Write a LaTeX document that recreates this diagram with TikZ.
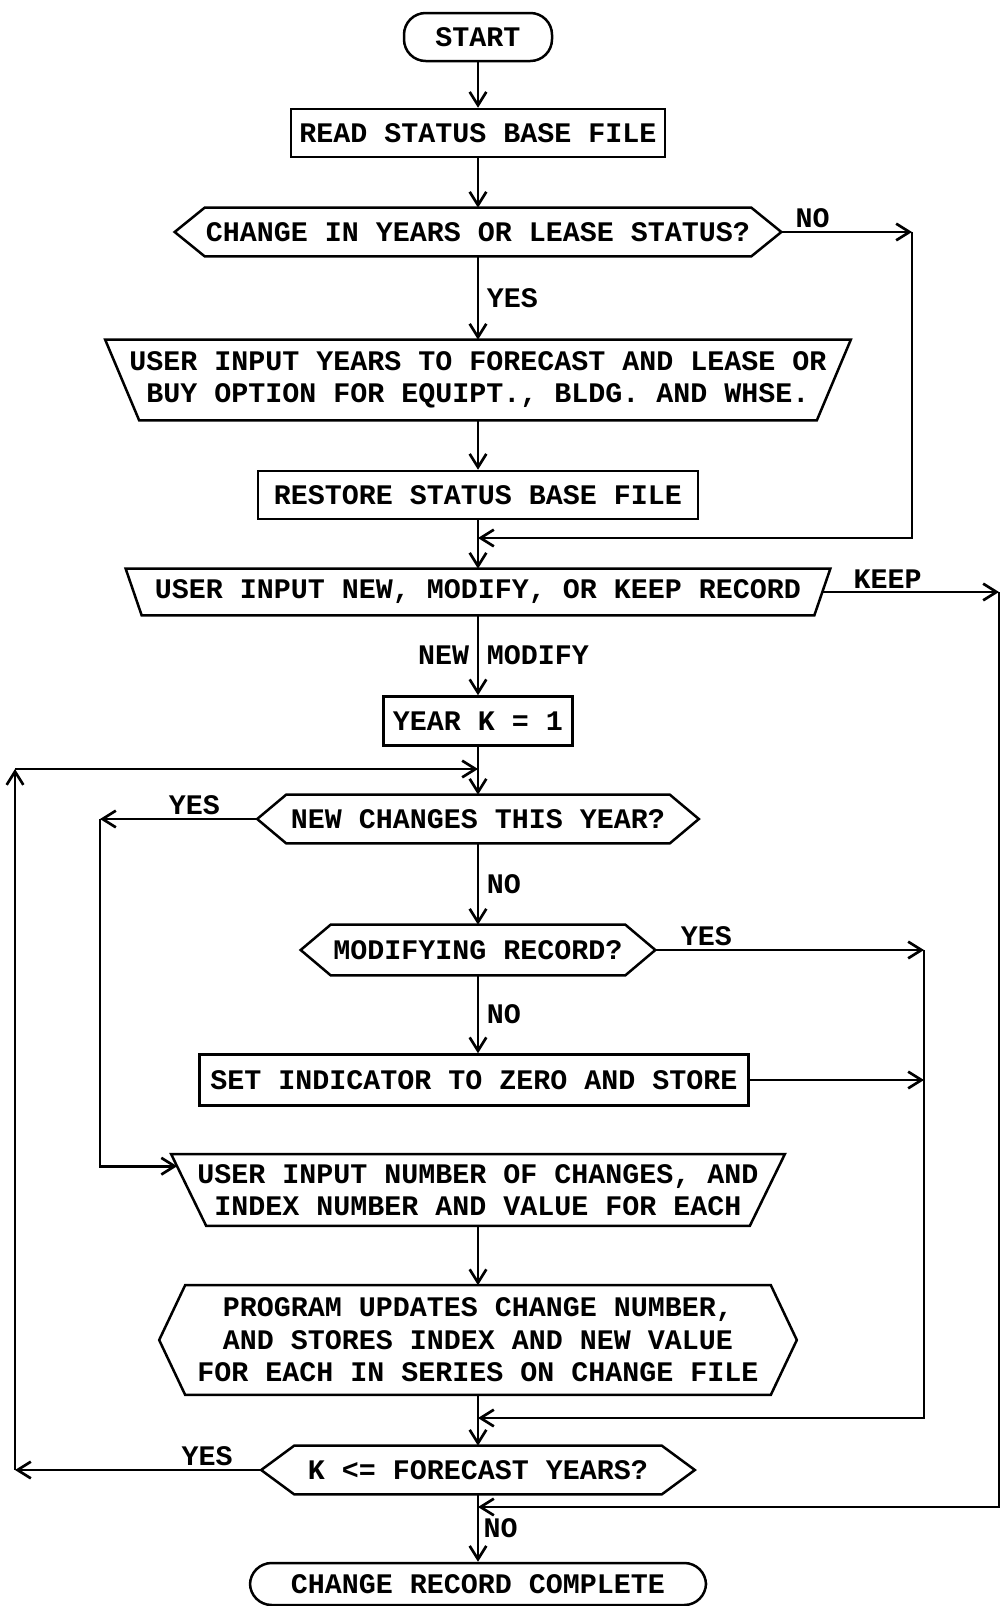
\documentclass[tikz,border=0pt]{standalone}
\usepackage{fontspec}
\setmonofont{Liberation Mono}
\usepackage{tikz}
\usetikzlibrary{arrows.meta,positioning}

\newcommand{\pxu}{0.6pt}

\begin{document}
\begin{tikzpicture}[
  x=0.6pt, y=-0.6pt,
  every node/.style={font=\ttfamily\bfseries\fontsize{17}{19.5}\selectfont, align=center, inner sep=0pt},
  terminal/.style={draw, line width=1.5pt, rounded corners=13pt, minimum width=#1*\pxu, minimum height=48*\pxu},
  procbox/.style={draw, line width=1.5pt, minimum width=#1*\pxu, minimum height=48*\pxu},
  decision/.style 2 args={minimum width=#1*\pxu, minimum height=48*\pxu,
    append after command={\pgfextra{\draw[line width=1.5pt]
      (\tikzlastnode.west) -- ([xshift=#2*\pxu]\tikzlastnode.north west)
      -- ([xshift=-#2*\pxu]\tikzlastnode.north east) -- (\tikzlastnode.east)
      -- ([xshift=-#2*\pxu]\tikzlastnode.south east)
      -- ([xshift=#2*\pxu]\tikzlastnode.south west) -- cycle;}}},
  userin/.style 2 args={minimum width=#1*\pxu,
    append after command={\pgfextra{\draw[line width=1.5pt]
      (\tikzlastnode.north west) -- (\tikzlastnode.north east)
      -- ([xshift=-#2*\pxu]\tikzlastnode.south east)
      -- ([xshift=#2*\pxu]\tikzlastnode.south west) -- cycle;}}},
  lbl/.style={inner sep=1.5pt},
  flow/.style={line width=1.6pt, ->},
  >={Straight Barb[length=8pt, width=10pt]}
]
\useasboundingbox (0,0) rectangle (1003,1606);

% main column
\node[terminal=148] (start) at (478,37) {START};
\node[procbox=374] (read) at (478,133) {READ STATUS BASE FILE};
\node[decision={606}{30}] (chg) at (478,232) {CHANGE IN YEARS OR LEASE STATUS?};
\node[userin={745}{34}, minimum height=80*\pxu] (inyear) at (478,380) {USER INPUT YEARS TO FORECAST AND LEASE OR\\BUY OPTION FOR EQUIPT., BLDG. AND WHSE.};
\node[procbox=440] (restore) at (478,495) {RESTORE STATUS BASE FILE};
\node[userin={704}{16}, minimum height=46*\pxu] (inmode) at (478,592) {USER INPUT NEW, MODIFY, OR KEEP RECORD};
\node[procbox=189, minimum height=49*\pxu] (yeark) at (478,721) {YEAR K = 1};
\node[decision={441}{29}] (newc) at (478,819) {NEW CHANGES THIS YEAR?};
\node[decision={354}{30}, minimum height=50*\pxu] (modif) at (478,950) {MODIFYING RECORD?};
\node[procbox=549, minimum height=51*\pxu] (setz) at (474,1080) {SET INDICATOR TO ZERO AND STORE};
\node[userin={613}{35}, minimum height=71*\pxu] (inchg) at (478,1190) {USER INPUT NUMBER OF CHANGES, AND\\INDEX NUMBER AND VALUE FOR EACH};
\node[decision={637}{26}, minimum height=109*\pxu] (prog) at (478,1340) {PROGRAM UPDATES CHANGE NUMBER,\\AND STORES INDEX AND NEW VALUE\\FOR EACH IN SERIES ON CHANGE FILE};
\node[decision={433}{33}] (kyear) at (478,1470) {K <= FORECAST YEARS?};
\node[terminal=456, minimum height=42*\pxu] (done) at (478,1584) {CHANGE RECORD COMPLETE};

% corners and joins of the side lines
\coordinate (nocnr) at (912,232);
\coordinate (join1) at (478,538);
\coordinate (keepcnr) at (999,592);
\coordinate (join2) at (478,769);
\coordinate (looptop) at (15,769);
\coordinate (loopbot) at (15,1470);
\coordinate (yescnr) at (100,819);
\coordinate (modcnr) at (924,950);
\coordinate (setcnr) at (924,1080);
\coordinate (join3) at (478,1418);
\coordinate (join4) at (478,1507);

\draw[flow] (start) -- (read);
\draw[flow] (read) -- (chg);
\draw[flow] (chg) -- node[lbl, right=3pt] {YES} (inyear);
\draw[flow] (chg.east) -- node[lbl, above, pos=0.24] {NO} (nocnr);
\draw[flow] (nocnr) |- (join1);
\draw[flow] (inyear) -- (restore);
\draw[flow] (restore) -- (inmode);
\draw[flow] ([xshift=-8*\pxu]inmode.east) -- node[lbl, above, pos=0.37] {KEEP} (keepcnr);
\draw[flow] (keepcnr) |- (join4);
\draw[flow] (inmode) -- node[lbl, left=3pt] {NEW} node[lbl, right=3pt] {MODIFY} (yeark);
\draw[flow] (yeark) -- (newc);
\draw[flow] (kyear.west) -- node[lbl, above, pos=0.22] {YES} (loopbot);
\draw[flow] (loopbot) -- (looptop);
\draw[flow] (looptop) -- (join2);
\draw[flow] (newc.west) -- node[lbl, above, pos=0.4] {YES} (yescnr);
\draw[flow] (yescnr) |- ([xshift=6*\pxu, yshift=-12*\pxu]inchg.north west);
\draw[flow] (newc) -- node[lbl, right=3pt] {NO} (modif);
\draw[flow] (modif.east) -- node[lbl, above, pos=0.19] {YES} (modcnr);
\draw[flow] (modif) -- node[lbl, right=3pt] {NO} (modif |- setz.north);
\draw[flow] (setz.east) -- (setcnr);
\draw[flow] (modcnr) |- (join3);
\draw[flow] (inchg) -- (prog);
\draw[flow] (prog) -- (kyear);
\draw[flow] (kyear) -- node[lbl, right=1pt] {NO} (done);
\end{tikzpicture}
\end{document}
